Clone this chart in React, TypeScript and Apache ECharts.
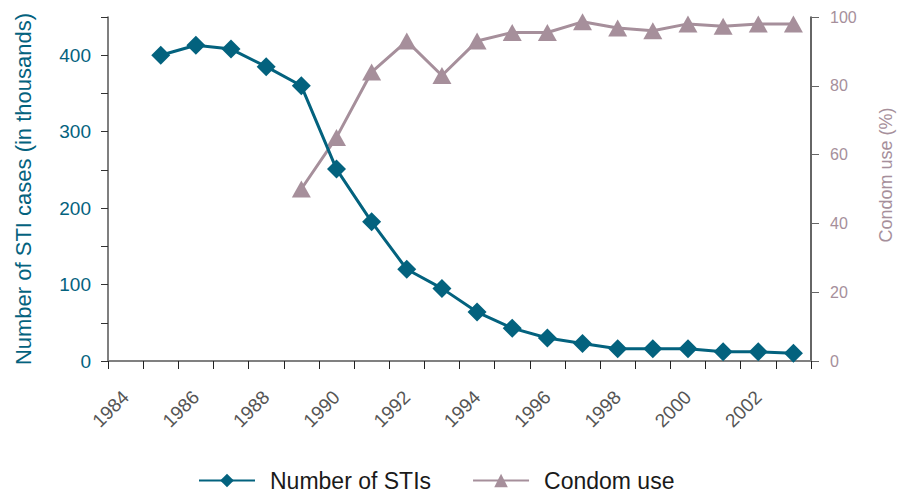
import React, { useEffect, useRef } from "react";
import * as echarts from "echarts";

const years = ["1984","1985","1986","1987","1988","1989","1990","1991","1992","1993","1994","1995","1996","1997","1998","1999","2000","2001","2002","2003"];
const stiCases = [null, 400, 413, 408, 385, 360, 251, 182, 120, 95, 64, 43, 30, 23, 16, 16, 16, 12, 12, 10];
const condomUse = [null, null, null, null, null, 50, 65, 84, 93, 83, 93, 95.5, 95.5, 98.6, 96.8, 96, 98, 97.3, 98, 98];

const TEAL = "#03627e";
const MAUVE = "#a68f9b";
const FONT = "Liberation Sans, Arial, sans-serif";

export default function App() {
  const ref = useRef<HTMLDivElement>(null);
  useEffect(() => {
    const chart = echarts.init(ref.current!, null, { renderer: "svg" });
    chart.setOption({
      animation: false,
      textStyle: { fontFamily: FONT },
      grid: { left: 108, right: 88, top: 17, bottom: 136, containLabel: false, outerBoundsMode: "none" },
      legend: {
        top: 464,
        left: 193,
        itemWidth: 56,
        itemHeight: 17,
        itemGap: 41,
        textStyle: { fontSize: 23, color: "#1a1a1a", fontFamily: FONT, padding: [0, 0, 0, 10] },
        data: ["Number of STIs", "Condom use"],
      },
      graphic: [
        {
          type: "text",
          x: 886,
          y: 175,
          rotation: Math.PI / 2,
          style: {
            text: "Condom use (%)",
            fill: MAUVE,
            font: "18px Liberation Sans, Arial, sans-serif",
            align: "center",
            verticalAlign: "middle",
          },
        },
      ],
      xAxis: {
        type: "category",
        data: years,
        boundaryGap: true,
        axisLine: { lineStyle: { color: "#808080", width: 2 } },
        axisTick: { show: true, interval: 0, length: 8, lineStyle: { color: "#222", width: 1 } },
        axisLabel: { interval: 1, rotate: 45, fontSize: 19, color: "#555", margin: 33, fontFamily: FONT },
      },
      yAxis: [
        {
          type: "value",
          min: 0,
          max: 450,
          interval: 50,
          name: "Number of STI cases (in thousands)",
          nameLocation: "middle",
          nameGap: 74,
          nameTextStyle: { fontSize: 22, color: TEAL, fontFamily: FONT },
          splitLine: { show: false },
          axisLine: { show: true, lineStyle: { color: "#555", width: 1.5 } },
          axisTick: { show: true, length: 7, lineStyle: { color: "#333" } },
          axisLabel: {
            fontSize: 19,
            color: TEAL,
            margin: 17,
            fontFamily: FONT,
            formatter: (v: number) => (v % 100 === 0 ? String(v) : ""),
          },
        },
        {
          type: "value",
          min: 0,
          max: 100,
          interval: 20,
          position: "right",
          splitLine: { show: false },
          axisLine: { show: true, lineStyle: { color: "#333", width: 1.5 } },
          axisTick: { show: true, length: 8, lineStyle: { color: "#666" } },
          axisLabel: { fontSize: 16, color: MAUVE, margin: 19, fontFamily: FONT },
        },
      ],
      series: [
        {
          name: "Number of STIs",
          type: "line",
          yAxisIndex: 0,
          data: stiCases,
          z: 3,
          symbol: "diamond",
          symbolSize: 19,
          lineStyle: { color: TEAL, width: 3 },
          itemStyle: { color: TEAL },
        },
        {
          name: "Condom use",
          type: "line",
          yAxisIndex: 1,
          data: condomUse,
          z: 2,
          symbol: "triangle",
          symbolSize: [19, 17],
          lineStyle: { color: MAUVE, width: 3 },
          itemStyle: { color: MAUVE },
        },
      ],
    });
    return () => chart.dispose();
  }, []);
  return <div ref={ref} style={{ width: 899, height: 497, position: "absolute", left: 0, top: 0 }} />;
}
